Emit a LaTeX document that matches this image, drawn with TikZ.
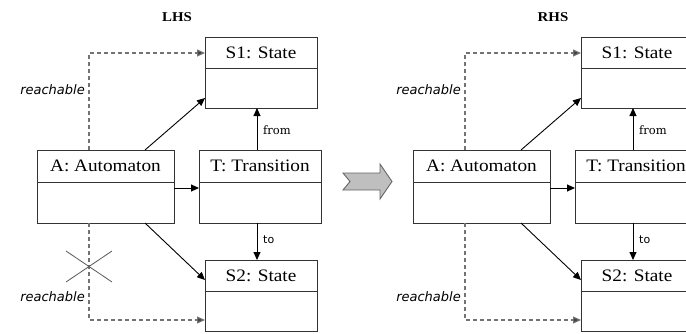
\documentclass[tikz,border=0pt]{standalone}
\usepackage{fontspec}
\setmainfont{Liberation Serif}[FakeStretch=1.1]
\newfontfamily\reachfont{DejaVu Sans}
\newfontfamily\labfont{DejaVu Serif}
\newfontfamily\tofont{DejaVu Sans}
\usetikzlibrary{arrows.meta}
\tikzset{
  objbox/.style={draw=black!80, line width=0.9pt, inner sep=0pt, outer sep=0pt, anchor=north west},
  objline/.style={draw=black!80, line width=0.9pt},
  objtitle/.style={font=\fontsize{17.5}{20}\selectfont, inner sep=0pt, anchor=center},
  sidetitle/.style={font=\bfseries\fontsize{13.5}{16}\selectfont, inner sep=0pt, anchor=center},
  link/.style={draw=black, line width=0.9pt, -{Triangle[length=8pt,width=7pt]}},
  reach/.style={draw=black!55, line width=1.1pt, dash pattern=on 4pt off 3pt, -{Triangle[length=8pt,width=7pt,fill=black!75]}},
  reachlabel/.style={font=\reachfont\itshape\fontsize{13}{15}\selectfont, anchor=east, inner sep=0pt},
  rolelabel/.style={font=\labfont\fontsize{11.5}{14}\selectfont, anchor=west, inner sep=0pt},
  tolabel/.style={font=\tofont\fontsize{11}{13}\selectfont, anchor=west, inner sep=0pt},
  cross/.style={draw=black!65, line width=0.8pt},
  bigarrow/.style={draw=black!60, fill=black!25, line width=0.9pt, line join=miter}
}
\newcommand\drawside[3]{%
\begin{scope}[xshift=#2]
  \node[sidetitle] (#1title) at (177,17) {#3};
  % objects
  \node[objbox, minimum width=112pt, minimum height=71pt] (#1s1) at (205,37) {};
  \draw[objline] (205,68) -- (317,68);
  \node[objtitle] (#1s1t) at (261,52.5) {S1: State};
  \node[objbox, minimum width=137pt, minimum height=73pt] (#1a) at (37,150) {};
  \draw[objline] (37,182) -- (174,182);
  \node[objtitle] (#1at) at (105.5,166) {A: Automaton};
  \node[objbox, minimum width=122pt, minimum height=73pt] (#1t) at (199,150) {};
  \draw[objline] (199,182) -- (321,182);
  \node[objtitle] (#1tt) at (260,166) {T: Transition};
  \node[objbox, minimum width=112pt, minimum height=71pt] (#1s2) at (205,260) {};
  \draw[objline] (205,291) -- (317,291);
  \node[objtitle] (#1s2t) at (261,275.5) {S2: State};
  % links
  \draw[link] ([xshift=108pt]#1a.north west) -- ([yshift=-61pt]#1s1.north west);
  \draw[link] ([yshift=-38pt]#1a.north east) -- ([yshift=-38pt]#1t.north west);
  \draw[link] ([xshift=108pt]#1a.south west) -- ([yshift=-20pt]#1s2.north west);
  \draw[link] ([xshift=58pt]#1t.north west) -- ([xshift=58pt]#1t.north west |- #1s1.south);
  \draw[link] ([xshift=58pt]#1t.south west) -- ([xshift=58pt]#1t.south west |- #1s2.north);
  \node[rolelabel] (#1from) at (263,130) {from};
  \node[tolabel] (#1to) at (263,240) {to};
  % reachable
  \draw[reach] ([xshift=52pt]#1a.north west) |- ([yshift=-16pt]#1s1.north west);
  \draw[reach] ([xshift=52pt]#1a.south west) |- ([yshift=-60pt]#1s2.north west);
  \node[reachlabel] (#1r1) at (85,90) {reachable};
  \node[reachlabel] (#1r2) at (85,297) {reachable};
\end{scope}}
\begin{document}
\begin{tikzpicture}[x=1pt,y=-1pt]
  \useasboundingbox (0,0) rectangle (686,333);
  \clip (0,0) rectangle (686,333);
  \fill[white] (0,0) rectangle (686,333);
  \drawside{l}{0pt}{LHS}
  \drawside{r}{376pt}{RHS}
  \draw[cross] (66,251) -- (112,282);
  \draw[cross] (66,282) -- (112,251);
  \draw[bigarrow] (343,173) -- (350,181.5) -- (343,190) -- (380,190) -- (380,199) -- (392,181.5) -- (380,164) -- (380,173) -- cycle;
\end{tikzpicture}
\end{document}
